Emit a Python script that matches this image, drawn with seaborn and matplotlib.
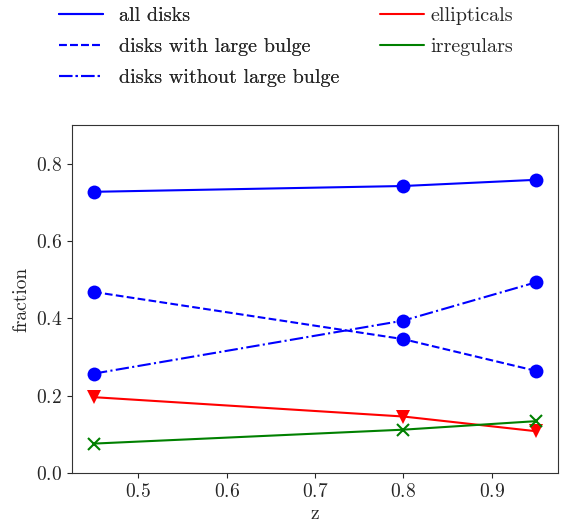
import matplotlib
matplotlib.use('Agg')
import matplotlib.pyplot as plt
import seaborn as sns
import pandas as pd
from matplotlib.lines import Line2D

# Data
z = [0.45, 0.80, 0.95]
all_disks = [0.727, 0.742, 0.758]
disks_large_bulge = [0.468, 0.346, 0.264]
disks_no_bulge = [0.257, 0.394, 0.493]
ellipticals = [0.196, 0.146, 0.108]
irregulars = [0.076, 0.112, 0.134]

sns.set_style('ticks')
plt.rcParams['font.family'] = 'serif'
plt.rcParams['font.serif'] = ['cmr10', 'DejaVu Serif']
plt.rcParams['mathtext.fontset'] = 'cm'
plt.rcParams['axes.formatter.use_mathtext'] = True
plt.rcParams['axes.unicode_minus'] = False

fig = plt.figure(figsize=(5.66, 5.27), dpi=100)
ax = fig.add_axes([0.127, 0.1025, 0.859, 0.6605])

series = [
    ('all disks', all_disks, 'blue', '-', 'o'),
    ('disks with large bulge', disks_large_bulge, 'blue', '--', 'o'),
    ('disks without large bulge', disks_no_bulge, 'blue', '-.', 'o'),
    ('ellipticals', ellipticals, 'red', '-', 'v'),
    ('irregulars', irregulars, 'green', '-', 'x'),
]

for name, vals, col, ls, mk in series:
    df = pd.DataFrame({'z': z, 'fraction': vals})
    sns.lineplot(data=df, x='z', y='fraction', ax=ax, color=col, linestyle=ls,
                 marker=mk, markersize=10 if mk != 'x' else 9,
                 markeredgewidth=1.5 if mk == 'x' else 0,
                 markeredgecolor=col, linewidth=1.5)

ax.set_ylim(0, 0.9)
ax.set_xlim(0.425, 0.975)
ax.set_xticks([0.5, 0.6, 0.7, 0.8, 0.9])
ax.set_yticks([0.0, 0.2, 0.4, 0.6, 0.8])
ax.set_xlabel('z', fontsize=14, labelpad=3)
ax.set_ylabel('fraction', fontsize=14)
ax.tick_params(labelsize=14)
for s in ax.spines.values():
    s.set_visible(True)
    s.set_color('#333333')

handles = [Line2D([], [], color=c, linestyle=ls, linewidth=1.5) for _, _, c, ls, _ in series]
labels = [s[0] for s in series]
leg_kw = dict(loc='upper left', frameon=False, fontsize=14.5, handlelength=2.2,
              labelspacing=0.65, borderpad=0, borderaxespad=0)
leg1 = fig.legend(handles[:3], labels[:3], bbox_to_anchor=(0.104, 0.987),
                  handletextpad=0.8, **leg_kw)
fig.legend(handles[3:], labels[3:], bbox_to_anchor=(0.671, 0.987),
           handletextpad=0.3, **leg_kw)
fig.add_artist(leg1)

fig.savefig('out.png', dpi=100)
